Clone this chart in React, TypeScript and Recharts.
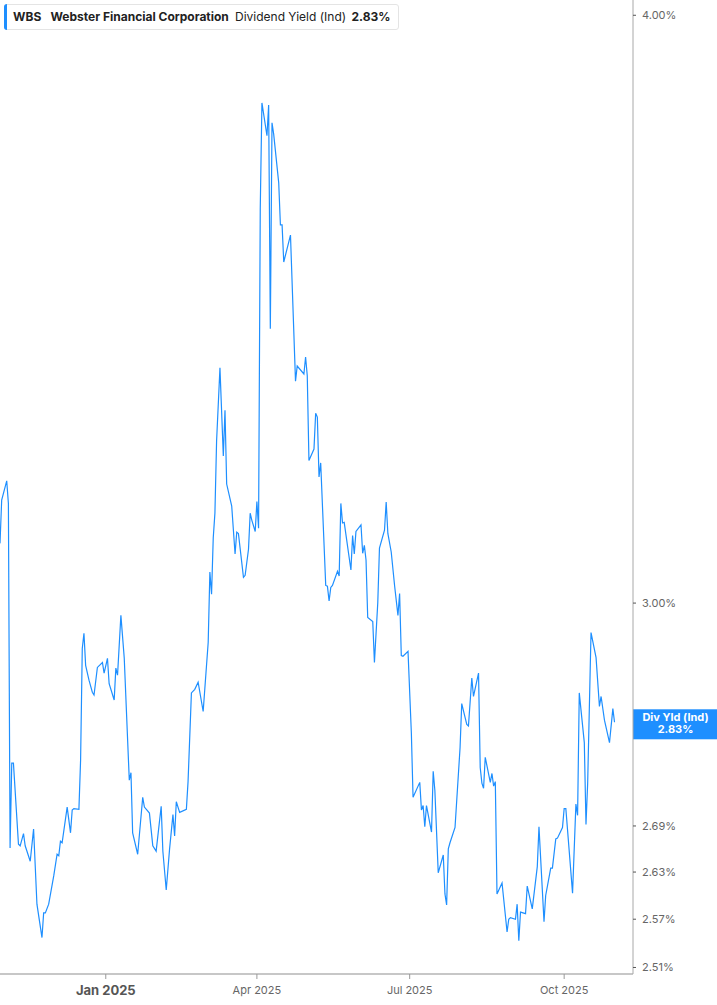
import React from 'react';
import { LineChart, Line, XAxis, YAxis, ReferenceLine } from 'recharts';

const ticker = 'WBS';
const companyName = 'Webster Financial Corporation';
const metricName = 'Dividend Yield (Ind)';
const tagName = 'Div Yld (Ind)';

const dates = [
  '2024-10-30', '2024-10-31', '2024-11-03', '2024-11-04', '2024-11-05', '2024-11-06', '2024-11-07', '2024-11-10',
  '2024-11-11', '2024-11-13', '2024-11-14', '2024-11-17', '2024-11-19', '2024-11-21', '2024-11-24', '2024-11-25',
  '2024-11-26', '2024-11-28', '2024-12-01', '2024-12-03', '2024-12-04', '2024-12-05', '2024-12-06', '2024-12-09',
  '2024-12-11', '2024-12-12', '2024-12-13', '2024-12-16', '2024-12-17', '2024-12-18', '2024-12-19', '2024-12-20',
  '2024-12-22', '2024-12-24', '2024-12-25', '2024-12-27', '2024-12-30', '2024-12-31', '2025-01-02', '2025-01-03',
  '2025-01-06', '2025-01-07', '2025-01-08', '2025-01-10', '2025-01-12', '2025-01-15', '2025-01-16', '2025-01-17',
  '2025-01-20', '2025-01-23', '2025-01-24', '2025-01-27', '2025-01-29', '2025-01-31', '2025-02-03', '2025-02-04',
  '2025-02-06', '2025-02-08', '2025-02-10', '2025-02-11', '2025-02-12', '2025-02-14', '2025-02-18', '2025-02-19',
  '2025-02-21', '2025-02-23', '2025-02-25', '2025-02-28', '2025-03-03', '2025-03-04', '2025-03-05', '2025-03-06',
  '2025-03-07', '2025-03-08', '2025-03-10', '2025-03-12', '2025-03-13', '2025-03-14', '2025-03-17', '2025-03-19',
  '2025-03-20', '2025-03-21', '2025-03-24', '2025-03-25', '2025-03-27', '2025-03-28', '2025-03-29', '2025-03-31',
  '2025-04-01', '2025-04-02', '2025-04-03', '2025-04-04', '2025-04-07', '2025-04-08', '2025-04-09', '2025-04-10',
  '2025-04-11', '2025-04-14', '2025-04-15', '2025-04-16', '2025-04-17', '2025-04-21', '2025-04-24', '2025-04-25',
  '2025-04-29', '2025-04-30', '2025-05-01', '2025-05-02', '2025-05-05', '2025-05-06', '2025-05-07', '2025-05-08',
  '2025-05-09', '2025-05-12', '2025-05-13', '2025-05-14', '2025-05-15', '2025-05-16', '2025-05-19', '2025-05-20',
  '2025-05-21', '2025-05-22', '2025-05-23', '2025-05-27', '2025-05-28', '2025-05-29', '2025-05-30', '2025-06-02',
  '2025-06-03', '2025-06-04', '2025-06-05', '2025-06-06', '2025-06-09', '2025-06-10', '2025-06-12', '2025-06-13',
  '2025-06-16', '2025-06-17', '2025-06-18', '2025-06-20', '2025-06-22', '2025-06-24', '2025-06-25', '2025-06-26',
  '2025-06-27', '2025-06-30', '2025-07-02', '2025-07-03', '2025-07-07', '2025-07-08', '2025-07-09', '2025-07-10',
  '2025-07-11', '2025-07-14', '2025-07-15', '2025-07-16', '2025-07-18', '2025-07-21', '2025-07-22', '2025-07-23',
  '2025-07-24', '2025-07-25', '2025-07-28', '2025-07-31', '2025-08-01', '2025-08-04', '2025-08-05', '2025-08-07',
  '2025-08-08', '2025-08-11', '2025-08-12', '2025-08-13', '2025-08-14', '2025-08-15', '2025-08-18', '2025-08-19',
  '2025-08-20', '2025-08-21', '2025-08-22', '2025-08-25', '2025-08-28', '2025-08-29', '2025-08-30', '2025-09-02',
  '2025-09-03', '2025-09-04', '2025-09-05', '2025-09-08', '2025-09-09', '2025-09-12', '2025-09-15', '2025-09-16',
  '2025-09-19', '2025-09-20', '2025-09-23', '2025-09-24', '2025-09-26', '2025-09-27', '2025-09-30', '2025-10-01',
  '2025-10-02', '2025-10-06', '2025-10-08', '2025-10-09', '2025-10-10', '2025-10-13', '2025-10-14', '2025-10-15',
  '2025-10-17', '2025-10-20', '2025-10-22', '2025-10-23', '2025-10-25', '2025-10-28', '2025-10-30', '2025-10-31',
];

const yields = [
  3.089, 3.155, 3.185, 3.150, 2.661, 2.774, 2.774, 2.666,
  2.664, 2.680, 2.664, 2.644, 2.686, 2.589, 2.547, 2.578,
  2.578, 2.589, 2.625, 2.653, 2.651, 2.670, 2.668, 2.715,
  2.681, 2.711, 2.713, 2.712, 2.778, 2.934, 2.956, 2.910,
  2.889, 2.872, 2.868, 2.907, 2.914, 2.899, 2.920, 2.884,
  2.861, 2.906, 2.896, 2.982, 2.920, 2.751, 2.761, 2.681,
  2.653, 2.728, 2.715, 2.707, 2.664, 2.657, 2.716, 2.657,
  2.607, 2.660, 2.705, 2.677, 2.722, 2.708, 2.712, 2.749,
  2.871, 2.876, 2.886, 2.845, 2.943, 3.046, 3.013, 3.097,
  3.135, 3.248, 3.366, 3.224, 3.297, 3.180, 3.146, 3.073,
  3.106, 3.104, 3.038, 3.041, 3.080, 3.135, 3.124, 3.107,
  3.153, 3.112, 3.638, 3.832, 3.771, 3.828, 3.431, 3.795,
  3.774, 3.685, 3.610, 3.610, 3.545, 3.592, 3.344, 3.369,
  3.356, 3.384, 3.353, 3.217, 3.235, 3.292, 3.286, 3.191,
  3.213, 3.026, 3.025, 3.003, 3.023, 3.026, 3.047, 3.040,
  3.150, 3.120, 3.121, 3.049, 3.101, 3.073, 3.107, 3.117,
  3.074, 3.086, 3.064, 2.979, 2.973, 2.914, 3.001, 3.082,
  3.109, 3.152, 3.104, 3.076, 3.026, 2.982, 3.014, 2.924,
  2.923, 2.930, 2.815, 2.728, 2.748, 2.711, 2.717, 2.689,
  2.717, 2.682, 2.763, 2.737, 2.629, 2.652, 2.602, 2.588,
  2.660, 2.668, 2.688, 2.795, 2.856, 2.827, 2.825, 2.892,
  2.866, 2.899, 2.768, 2.747, 2.740, 2.782, 2.748, 2.760,
  2.743, 2.749, 2.602, 2.616, 2.554, 2.570, 2.572, 2.570,
  2.589, 2.543, 2.579, 2.577, 2.612, 2.583, 2.637, 2.689,
  2.567, 2.600, 2.635, 2.635, 2.673, 2.674, 2.688, 2.713,
  2.713, 2.603, 2.719, 2.704, 2.871, 2.802, 2.692, 2.747,
  2.957, 2.921, 2.852, 2.866, 2.833, 2.802, 2.849, 2.830,
];

const xTickDates = ['2025-01-01', '2025-04-01', '2025-07-01', '2025-10-01'];
const xTickLabels = ['Jan 2025', 'Apr 2025', 'Jul 2025', 'Oct 2025'];
const xDomainDates = ['2024-10-30', '2025-11-11'];
const yTicks = [2.51, 2.57, 2.63, 2.69, 3.0, 4.0];
const yDomain = [2.502, 4.03];

const BLUE = '#1E8FFF';
const FONT = 'Inter, "Noto Sans", sans-serif';

const toTs = (s: string) => Date.parse(s + 'T00:00:00Z');
const data = dates.map((d, i) => ({ t: toTs(d), v: yields[i] }));
const xTicks = xTickDates.map(toTs);
const xDomain = xDomainDates.map(toTs);
const lastValue = yields[yields.length - 1];

const XTick = (props: any) => {
  const { x, y, payload } = props;
  const idx = xTicks.indexOf(payload.value);
  const label = idx >= 0 ? xTickLabels[idx] : '';
  const bold = idx === 0;
  return (
    <text
      x={x}
      y={y}
      dy="0.71em"
      textAnchor="middle"
      fill={bold ? '#555' : '#666'}
      fontSize={bold ? 13 : 11}
      fontWeight={bold ? 700 : 400}
      fontFamily={FONT}
    >
      {label}
    </text>
  );
};

const ValueTag = (props: any) => {
  const vb = props.viewBox || {};
  const x = (vb.x || 0) + (vb.width || 0);
  const y = vb.y || 0;
  const w = 85;
  return (
    <g>
      <rect x={x} y={y - 13} width={w} height={30} fill={BLUE} />
      <text x={x + w / 2} y={y - 1} textAnchor="middle" fill="#fff" fontSize={11} fontWeight={700} fontFamily={FONT}>
        {tagName}
      </text>
      <text x={x + w / 2} y={y + 11} textAnchor="middle" fill="#fff" fontSize={11} fontWeight={700} fontFamily={FONT}>
        {lastValue.toFixed(2) + '%'}
      </text>
    </g>
  );
};

export default function App() {
  return (
    <div style={{ position: 'absolute', left: 0, top: 0, width: 717, height: 1005, background: '#fff' }}>
      <LineChart width={717} height={1005} data={data} margin={{ top: 0, right: 0, bottom: 0, left: 0 }}>
        <XAxis
          dataKey="t"
          type="number"
          domain={xDomain}
          ticks={xTicks}
          interval={0}
          height={31}
          tick={<XTick />}
          tickSize={5}
          tickMargin={7}
          axisLine={{ stroke: '#b5b5b5', strokeWidth: 1.5 }}
          tickLine={{ stroke: '#999' }}
          allowDataOverflow
        />
        <YAxis
          orientation="right"
          type="number"
          scale="log"
          domain={yDomain}
          ticks={yTicks}
          interval={0}
          width={84}
          allowDataOverflow
          tickSize={3}
          tickMargin={6}
          tickFormatter={(v: number) => v.toFixed(2) + '%'}
          tick={{ fontSize: 11, fill: '#666', fontFamily: FONT }}
          axisLine={{ stroke: '#a8a8a8', strokeWidth: 1 }}
          tickLine={{ stroke: '#555' }}
        />
        <Line
          type="linear"
          dataKey="v"
          stroke={BLUE}
          strokeWidth={1.2}
          dot={false}
          activeDot={false}
          isAnimationActive={false}
        />
        <ReferenceLine y={lastValue} stroke="none" label={<ValueTag />} />
      </LineChart>
      <div
        style={{
          position: 'absolute',
          left: 4,
          top: 4,
          width: 395,
          height: 26,
          boxSizing: 'border-box',
          border: '1px solid #e4e4e4',
          borderRadius: 3,
          background: '#fff',
          fontFamily: FONT,
          fontSize: 12,
          color: '#222',
          lineHeight: '24px',
          whiteSpace: 'nowrap',
        }}
      >
        <div style={{ position: 'absolute', left: -1, top: -1, bottom: -1, width: 3, background: BLUE, borderRadius: '3px 0 0 3px' }} />
        <span style={{ position: 'absolute', left: 8, top: 0, fontWeight: 700 }}>{ticker}</span>
        <span style={{ position: 'absolute', left: 45.5, top: 0, fontWeight: 700 }}>{companyName}</span>
        <span style={{ position: 'absolute', left: 230, top: 0, fontWeight: 400 }}>{metricName}</span>
        <span style={{ position: 'absolute', left: 346.5, top: 0, fontWeight: 700 }}>{lastValue.toFixed(2) + '%'}</span>
      </div>
    </div>
  );
}
